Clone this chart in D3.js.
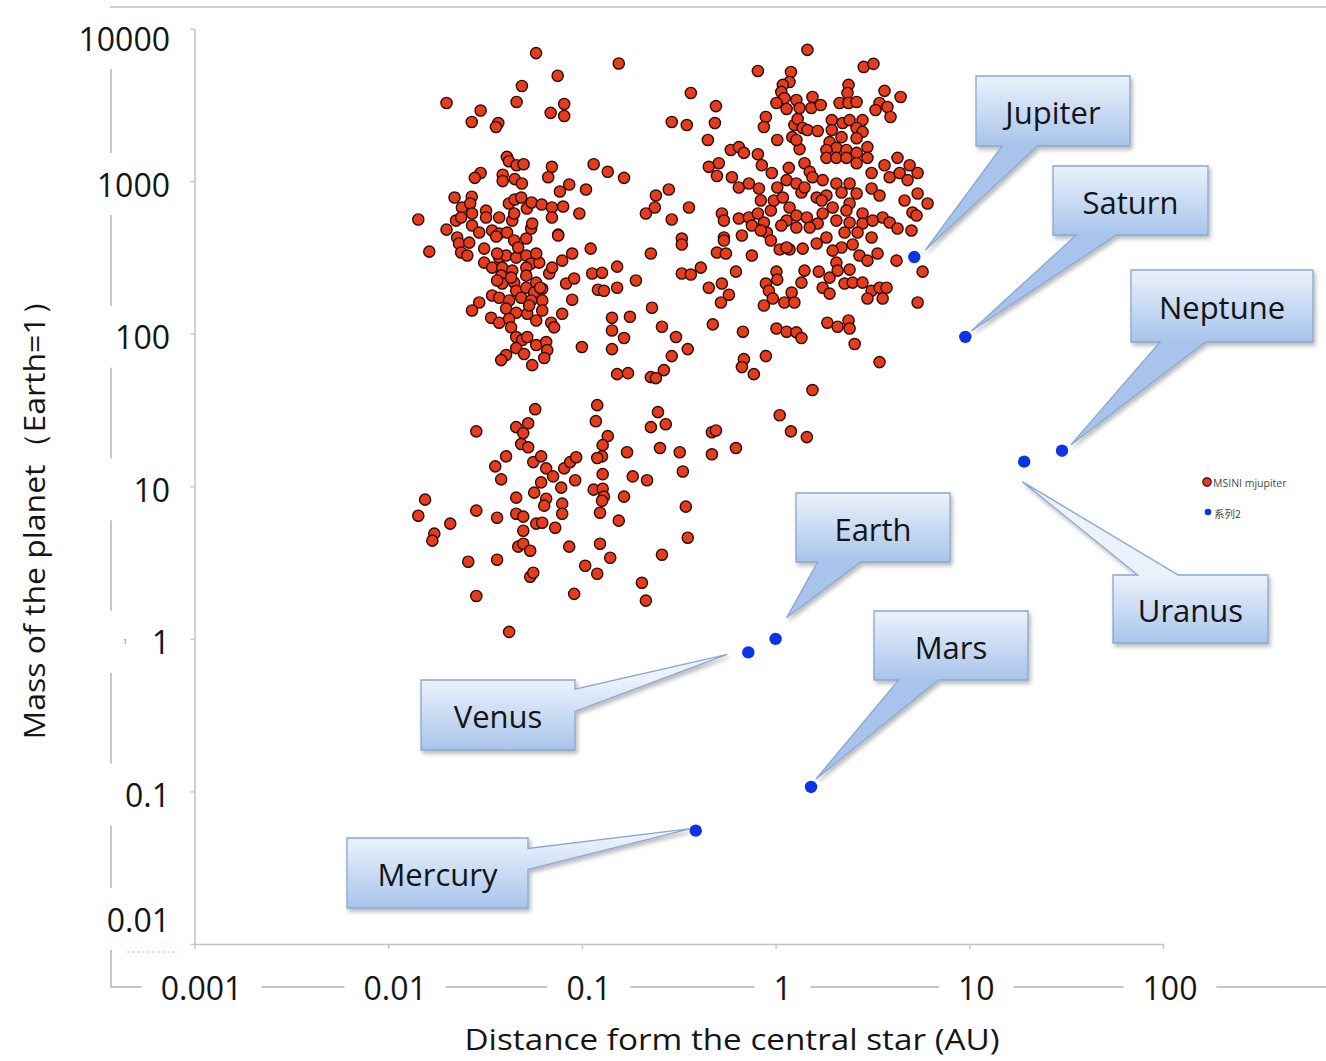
<!DOCTYPE html>
<html>
<head>
<meta charset="utf-8">
<script src="https://cdn.jsdelivr.net/npm/d3@7"></script>
<style>
  html, body { margin: 0; padding: 0; background: #ffffff; }
  svg { display: block; }
  text { font-family: "Open Sans", "Noto Sans", sans-serif; }
</style>
</head>
<body>
<svg id="chart" width="1326" height="1061"></svg>
<script>
// ---- Exoplanets: semi-major axis (AU) and minimum mass (Earth masses) ----
const exoDistance = [
  // hot / warm giants inside 0.3 AU
  0.058,0.155,0.075,0.049,0.020,0.046,0.030,0.069,0.081,0.081,
  0.027,0.037,0.036,0.041,0.042,0.046,0.050,0.070,0.115,0.136,
  0.165,0.030,0.028,0.039,0.039,0.045,0.049,0.067,0.086,0.077,
  0.105,0.022,0.027,0.024,0.0265,0.032,0.042,0.045,0.0486,0.052,
  0.055,0.062,0.070,0.080,0.097,0.070,0.0143,0.020,0.0224,0.0238,
  0.0271,0.032,0.0374,0.0437,0.0447,0.0271,0.0295,0.0344,0.0374,0.0411,
  0.0547,0.0554,0.0754,0.214,0.238,0.241,0.0163,0.0227,0.0232,0.0262,
  0.0238,0.0256,0.0313,0.0361,0.0447,0.0516,0.0313,0.0344,0.0374,0.0406,
  0.0458,0.0516,0.0547,0.0602,0.0581,0.0388,0.0437,0.0516,0.0383,0.0388,
  0.0447,0.0516,0.0581,0.0624,0.0458,0.0516,0.0567,0.0344,0.0295,0.0271,
  0.0374,0.0421,0.0486,0.0547,0.0624,0.0406,0.0458,0.0522,0.0624,0.0581,
  0.034,0.0374,0.0421,0.0431,0.0694,0.0719,0.0791,0.0891,0.0829,0.0912,
  0.0678,0.0702,0.0791,0.0891,0.0754,0.111,0.113,0.127,0.152,0.121,
  0.130,0.152,0.190,0.227,0.230,0.143,0.177,0.143,0.165,0.143,
  0.100,0.152,0.173,0.227,0.241,0.0458,0.0492,0.0522,0.0581,0.0654,
  0.0662,0.0458,0.0406,0.0383,0.0503,0.0639,0.0554,0.0365,0.0469,0.0431,
  0.0365,0.0534,0.0609,
  // giants beyond 0.3 AU
  1.46,0.81,2.85,3.20,0.365,1.20,1.18,1.09,1.07,1.11,
  1.01,1.14,1.28,1.33,1.55,1.53,1.71,2.38,2.35,2.14,
  2.38,2.62,3.65,4.42,3.44,3.78,3.28,3.92,0.492,0.291,
  0.348,0.486,0.447,0.891,0.870,1.02,1.25,1.30,1.22,1.38,
  1.46,1.65,1.95,1.95,2.22,2.41,2.81,2.62,2.81,2.19,
  2.62,1.90,2.06,1.83,2.32,2.62,2.98,1.83,2.06,2.32,
  2.62,2.98,1.33,1.28,0.587,0.646,0.686,0.810,0.849,0.956,
  1.17,1.41,1.50,0.509,0.452,0.498,0.595,0.646,0.728,0.820,
  0.839,1.02,1.14,1.28,1.36,1.55,1.75,1.63,1.83,2.06,
  2.19,2.41,2.62,1.97,2.41,2.81,3.13,3.13,3.44,3.65,
  3.88,4.26,4.37,4.92,4.80,5.41,5.41,4.63,5.09,6.09,
  5.34,3.57,3.88,4.26,5.03,0.281,0.357,0.291,0.528,0.541,
  0.646,0.728,0.754,0.870,0.945,0.980,1.09,1.18,1.14,1.28,
  1.45,1.65,1.75,2.06,2.41,2.81,3.17,1.07,1.28,1.50,
  0.901,0.670,0.541,0.328,2.27,2.65,3.13,0.328,0.541,0.498,
  0.554,0.754,0.945,1.05,1.18,1.38,1.63,1.83,2.19,
  2.50,2.71,2.98,3.36,4.21,5.74,5.41,0.328,0.365,0.411,
  0.624,0.452,0.528,0.574,0.522,1.01,1.02,0.891,0.923,0.967,
  0.870,1.11,1.21,1.25,1.36,1.41,1.67,1.90,1.75,1.90,
  2.06,2.09,2.27,2.41,2.50,2.81,3.13,2.98,3.44,3.57,
  3.74,1.85,2.09,2.38,2.41,2.56,3.44,1.55,1.01,1.14,
  1.28,1.36,0.678,0.474,0.891,0.686,0.670,0.772,0.259,0.306,
  0.352,0.291,0.265,1.41,0.810,0.839,1.14,1.97,2.32,1.73,
  // Neptune-mass and super-Earth planets
  1.05,0.0574,0.0285,0.0458,0.0528,0.0498,0.0486,0.0528,0.0406,0.0357,
  0.0383,0.0561,0.0616,0.0654,0.0710,0.0616,0.0567,0.0458,0.0782,0.081,
  0.087,0.0934,0.0923,0.0654,0.0639,0.0791,0.0791,0.120,0.118,0.136,
  0.128,0.127,0.120,0.128,0.115,0.128,0.130,0.127,0.124,0.165,
  0.155,0.171,0.183,0.217,0.247,0.227,0.271,0.253,0.320,0.332,
  0.344,0.352,0.469,0.492,0.469,0.624,0.259,0.124,0.140,0.104,
  0.120,0.204,0.214,0.0912,0.0541,0.0561,0.0469,0.0498,0.0541,0.086,
  0.0365,0.0259,0.0285,0.0421,0.0155,0.0143,0.0209,0.0173,0.0169,0.0285,
  0.0365,0.0458,0.0498,0.0498,0.0581,0.0624,0.0728,1.20,1.45
];

const exoMass = [
  6900,5900,4900,4200,3250,3300,2900,2800,3200,2670,
  2440,2400,2260,1440,1350,1270,1290,1240,1290,1150,
  1050,1130,1050,1100,1000,1030,964,1060,950,855,
  880,780,790,670,713,640,713,757,780,661,
  724,702,671,681,613,577,560,481,551,577,
  613,577,577,551,613,511,460,474,453,460,
  489,527,446,613,671,804,345,427,390,395,
  340,325,361,433,408,420,292,271,315,325,
  315,325,288,292,335,271,259,271,240,213,
  216,240,216,197,191,200,186,178,160,142,
  172,165,172,165,165,146,137,135,142,122,
  127,118,125,110,118,110,135,167,213,230,
  248,271,301,335,440,361,248,251,275,194,
  191,200,223,335,148,127,129,105,93.6,79.2,
  81.7,54.3,55.1,51.9,51.1,95,90.8,95,84.2,88.1,
  78,80.4,72.4,67.1,73.5,69.2,62.2,335,367,233,
  223,153,200,

  7240,5270,5600,5860,3780,5190,4460,4270,3840,3500,
  3250,2970,3400,3010,3560,3010,3150,4270,3780,3250,
  3250,3300,3900,3560,3250,3060,2920,2630,3100,2440,
  2330,2400,1860,2630,2260,1860,2330,2550,1940,2230,
  2160,2130,2510,2160,2400,2510,2510,2230,2100,1940,
  1910,1800,1650,1600,1600,1530,1670,1420,1420,1420,
  1310,1420,1620,1860,1600,1670,1530,1500,1270,1130,
  1220,1310,1150,1310,1240,1080,1060,908,964,894,
  746,908,1015,964,842,1060,1015,780,804,964,
  842,964,829,671,713,613,1130,894,804,1270,
  1060,1420,1130,1270,1015,1130,829,746,622,713,
  595,577,535,489,474,881,671,560,613,551,
  568,577,511,535,641,746,780,671,551,595,
  577,527,613,551,535,527,551,511,496,496,
  460,440,427,420,460,460,427,384,408,340,
  335,325,408,356,356,361,390,427,367,
  384,325,301,335,301,255,160,248,244,271,
  255,200,213,180,160,255,226,213,191,170,
  153,160,186,160,216,259,255,233,200,183,
  292,259,213,263,216,216,191,170,200,170,
  200,118,111,122,108,85.5,65.1,42.7,108,103,
  102,93.6,103,115,71.3,68.1,60.4,54.3,111,95.0,
  79.2,71.3,57.7,908,613,474,367,350,641,746,

  29.2,32.0,22.9,24.4,25.9,22.3,18.9,18.0,15.7,13.5,
  11.1,14.4,15.7,13.1,11.6,10.6,9.08,8.42,9.79,13.1,
  14.4,15.5,10.95,8.29,7.46,7.69,6.61,34.0,26.7,21.3,
  18.6,15.7,15.3,12.0,9.50,9.64,8.55,8.04,6.71,8.55,
  5.95,16.7,11.6,10.95,30.6,24.4,25.5,17.8,16.7,12.5,
  7.35,4.60,22.6,23.2,16.2,17.8,3.56,4.20,3.40,3.01,
  2.67,2.33,1.78,1.97,2.55,2.71,4.02,4.20,3.78,4.02,
  3.30,3.20,1.91,1.11,8.17,6.41,5.69,4.89,4.40,6.92,
  6.22,6.61,6.32,5.11,5.69,5.77,5.35,22.9,21.0
];

// ---- Solar-system planets ----
const planetNames    = ["Mercury", "Venus", "Earth", "Mars", "Jupiter", "Saturn", "Uranus", "Neptune"];
const planetDistance = [0.387, 0.723, 1.0, 1.524, 5.20, 9.54, 19.2, 30.1];
const planetMass     = [0.0553, 0.815, 1.0, 0.107, 317.8, 95.2, 14.5, 17.1];

// ---- Axis ticks and labels ----
const xTickValues = [0.001, 0.01, 0.1, 1, 10, 100];
const xTickLabels = ["0.001", "0.01", "0.1", "1", "10", "100"];
const yTickValues = [10000, 1000, 100, 10, 1, 0.1, 0.01];
const yTickLabels = ["10000", "1000", "100", "10", "1", "0.1", "0.01"];
const legendLabels = ["MSINI mjupiter", "系列2"];
const xTitle = "Distance form the central star (AU)";
const yTitle = "Mass of the planet（Earth=1）";

// ---- Layout ----
const W = 1326, H = 1061;
const frameLeft = 111, frameBottom = 987;

// callout boxes: [left, top, width, height], side the pointer leaves from,
// pointer base as fractions along that side, tip offset from the planet dot
const calloutLayout = {
  Jupiter: { box: [976, 76, 154, 70],  side: "bottom", base: [0.17, 0.40], tip: [11, -7] },
  Saturn:  { box: [1053, 166, 155, 69], side: "bottom", base: [0.15, 0.41], tip: [6, -6] },
  Neptune: { box: [1131, 270, 182, 72], side: "bottom", base: [0.16, 0.41], tip: [9, -6] },
  Uranus:  { box: [1113, 575, 155, 68], side: "top",    base: [0.16, 0.42], tip: [-2, 20] },
  Earth:   { box: [796, 493, 154, 69],  side: "bottom", base: [0.14, 0.42], tip: [11, -21] },
  Mars:    { box: [874, 611, 154, 69],  side: "bottom", base: [0.16, 0.42], tip: [5, -8] },
  Venus:   { box: [421, 680, 154, 70],  side: "right",  base: [0.13, 0.45], tip: [-21, 2] },
  Mercury: { box: [347, 838, 181, 70],  side: "right",  base: [0.15, 0.45], tip: [-5, -2] }
};

const svg = d3.select("#chart");

const x = d3.scaleLog().domain([0.001, 100]).range([194.5, 1163]);
const y = d3.scaleLog().domain([0.01, 10000]).range([944, 28.5]);

const defs = svg.append("defs");
const shadow = defs.append("filter").attr("id", "calloutShadow")
  .attr("x", "-20%").attr("y", "-20%").attr("width", "150%").attr("height", "150%");
shadow.append("feDropShadow").attr("dx", 2).attr("dy", 3).attr("stdDeviation", 2)
  .attr("flood-color", "#000").attr("flood-opacity", 0.28);

// thin rule across the top
svg.append("line").attr("x1", 110).attr("x2", W).attr("y1", 7).attr("y2", 7)
  .attr("stroke", "#cdcdcd").attr("stroke-width", 2);

// ---- inner log axes (lines and ticks only) ----
const gx = svg.append("g").attr("transform", `translate(0,${y(0.01)})`)
  .call(d3.axisBottom(x).tickValues(xTickValues).tickFormat("").tickSize(5).tickSizeOuter(0));
const gy = svg.append("g").attr("transform", `translate(${x(0.001)},0)`)
  .call(d3.axisLeft(y).tickValues(yTickValues).tickFormat("").tickSize(4).tickSizeOuter(0));
[gx, gy].forEach(g => {
  g.select(".domain").attr("stroke", "#c4c4c4").attr("stroke-width", 1.6);
  g.selectAll(".tick line").attr("stroke", "#c4c4c4").attr("stroke-width", 1.4);
});

// ---- outer tick labels ----
const xLabels = svg.append("g").selectAll("text").data(xTickValues).join("text")
  .attr("x", d => x(d) + 7)
  .attr("y", frameBottom)
  .attr("text-anchor", "middle")
  .attr("dominant-baseline", "central")
  .attr("font-size", 32)
  .attr("fill", "#151515")
  .text((d, i) => xTickLabels[i]);

const yLabelShift = v => (v === 10000 ? 9.5 : v === 0.01 ? -25 : 3);
const yLabels = svg.append("g").selectAll("text").data(yTickValues).join("text")
  .attr("x", 170)
  .attr("y", d => y(d) + yLabelShift(d))
  .attr("text-anchor", "end")
  .attr("dominant-baseline", "central")
  .attr("font-size", 32)
  .attr("fill", "#151515")
  .text((d, i) => yTickLabels[i]);

// tiny stray glyph beside the "1" label and a faint dotted mark under "0.01"
svg.append("text").attr("x", 125).attr("y", y(1) + 5).attr("font-size", 8)
  .attr("fill", "#777").attr("text-anchor", "middle").text("1");
svg.append("line").attr("x1", 127).attr("x2", 178).attr("y1", 952).attr("y2", 952)
  .attr("stroke", "#c8c8c8").attr("stroke-width", 1.2).attr("stroke-dasharray", "3,2");

// ---- outer frame lines, broken around the labels ----
const frame = svg.append("g").attr("stroke", "#c6c6c6").attr("stroke-width", 2).attr("fill", "none");
{
  // bottom line
  const gaps = [];
  xLabels.each(function () {
    const b = this.getBBox();
    gaps.push([b.x - 19, b.x + b.width + 19]);
  });
  let start = frameLeft;
  gaps.forEach(([a, b]) => {
    frame.append("line").attr("x1", start).attr("x2", a).attr("y1", frameBottom).attr("y2", frameBottom);
    start = b;
  });
  frame.append("line").attr("x1", start).attr("x2", W).attr("y1", frameBottom).attr("y2", frameBottom);

  // left line
  const vg = [];
  yLabels.each(function () {
    const cy = +d3.select(this).attr("y");
    vg.push([cy - 31, cy + 31]);
  });
  for (let i = 0; i < vg.length - 1; i++) {
    frame.append("line").attr("x1", frameLeft).attr("x2", frameLeft)
      .attr("y1", vg[i][1]).attr("y2", vg[i + 1][0]);
  }
  frame.append("line").attr("x1", frameLeft).attr("x2", frameLeft)
    .attr("y1", vg[vg.length - 1][1]).attr("y2", frameBottom + 1);
}

// ---- axis titles ----
svg.append("text")
  .attr("transform", "translate(33,512) rotate(-90)")
  .attr("text-anchor", "middle")
  .attr("dominant-baseline", "central")
  .attr("font-size", 30)
  .attr("fill", "#151515")
  .attr("textLength", 455)
  .attr("lengthAdjust", "spacingAndGlyphs")
  .text(yTitle);

svg.append("text")
  .attr("x", 732).attr("y", 1038)
  .attr("text-anchor", "middle")
  .attr("dominant-baseline", "central")
  .attr("font-size", 29)
  .attr("fill", "#151515")
  .attr("textLength", 535)
  .attr("lengthAdjust", "spacingAndGlyphs")
  .text(xTitle);

// ---- exoplanet scatter ----
const exoplanets = exoDistance.map((a, i) => ({ a, m: exoMass[i] }));
svg.append("g").selectAll("circle").data(exoplanets).join("circle")
  .attr("cx", d => x(d.a))
  .attr("cy", d => y(d.m))
  .attr("r", 5.6)
  .attr("fill", "#e63c1e")
  .attr("stroke", "#2e0a04")
  .attr("stroke-width", 1.4);

// ---- solar-system planets ----
const planets = planetNames.map((name, i) => ({ name, a: planetDistance[i], m: planetMass[i] }));

// callouts
const callG = svg.append("g");
planets.forEach((p, i) => {
  const L = calloutLayout[p.name];
  const [bx, by, bw, bh] = L.box;
  const tx = x(p.a) + L.tip[0], ty = y(p.m) + L.tip[1];
  const gid = "callGrad" + i;
  const g = defs.append("linearGradient").attr("id", gid).attr("gradientUnits", "userSpaceOnUse")
    .attr("x1", 0).attr("y1", by).attr("x2", 0).attr("y2", by + bh);
  g.append("stop").attr("offset", "0%").attr("stop-color", "#ebf2fc");
  g.append("stop").attr("offset", "100%").attr("stop-color", "#a8c4ec");

  const path = d3.path();
  if (L.side === "bottom") {
    const b1 = bx + L.base[0] * bw, b2 = bx + L.base[1] * bw;
    path.moveTo(bx, by); path.lineTo(bx + bw, by); path.lineTo(bx + bw, by + bh);
    path.lineTo(b2, by + bh); path.lineTo(tx, ty); path.lineTo(b1, by + bh);
    path.lineTo(bx, by + bh); path.closePath();
  } else if (L.side === "top") {
    const b1 = bx + L.base[0] * bw, b2 = bx + L.base[1] * bw;
    path.moveTo(bx, by); path.lineTo(b1, by); path.lineTo(tx, ty); path.lineTo(b2, by);
    path.lineTo(bx + bw, by); path.lineTo(bx + bw, by + bh); path.lineTo(bx, by + bh); path.closePath();
  } else {
    const b1 = by + L.base[0] * bh, b2 = by + L.base[1] * bh;
    path.moveTo(bx, by); path.lineTo(bx + bw, by); path.lineTo(bx + bw, b1);
    path.lineTo(tx, ty); path.lineTo(bx + bw, b2); path.lineTo(bx + bw, by + bh);
    path.lineTo(bx, by + bh); path.closePath();
  }
  callG.append("path")
    .attr("d", path.toString())
    .attr("fill", `url(#${gid})`)
    .attr("stroke", "#8ba7cd")
    .attr("stroke-width", 1.3)
    .attr("stroke-linejoin", "miter")
    .attr("filter", "url(#calloutShadow)");
  callG.append("text")
    .attr("x", bx + bw / 2)
    .attr("y", by + bh / 2 + 1)
    .attr("text-anchor", "middle")
    .attr("dominant-baseline", "central")
    .attr("font-size", 31)
    .attr("fill", "#141414")
    .text(p.name);
});

svg.append("g").selectAll("circle").data(planets).join("circle")
  .attr("cx", d => x(d.a))
  .attr("cy", d => y(d.m))
  .attr("r", 6.2)
  .attr("fill", "#0d33e6");

// ---- legend ----
const lg = svg.append("g");
lg.append("circle").attr("cx", 1207).attr("cy", 482).attr("r", 4.2)
  .attr("fill", "#e63c1e").attr("stroke", "#2e0a04").attr("stroke-width", 1.2);
lg.append("text").attr("x", 1213).attr("y", 483).attr("dominant-baseline", "central")
  .attr("font-size", 10.5).attr("fill", "#4a4a4a").text(legendLabels[0]);
lg.append("circle").attr("cx", 1208).attr("cy", 512).attr("r", 3.3).attr("fill", "#0d33e6");
lg.append("text").attr("x", 1214).attr("y", 513).attr("dominant-baseline", "central")
  .attr("font-size", 10.5).attr("fill", "#4a4a4a")
  .style("font-family", "'Noto Sans CJK SC', 'Noto Sans', sans-serif")
  .text(legendLabels[1]);
</script>
</body>
</html>
